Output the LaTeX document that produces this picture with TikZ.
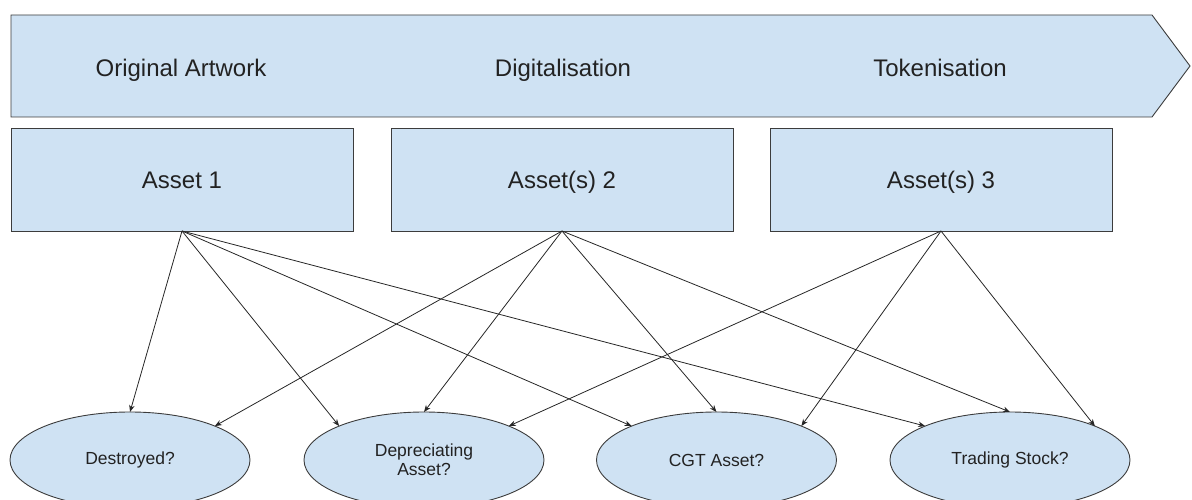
\documentclass[tikz,border=0pt]{standalone}
\usepackage{fontspec}
\setmainfont{Liberation Sans}
\usetikzlibrary{arrows.meta,shapes.geometric}
\definecolor{fillblue}{HTML}{CFE2F3}
\definecolor{edgegray}{HTML}{3C3C3C}
\definecolor{txt}{HTML}{222222}
\tikzset{
  banner/.style={draw=edgegray,fill=fillblue,line width=0.9pt},
  bannertext/.style={text=txt,font=\fontsize{24}{28}\selectfont,inner sep=0pt,anchor=base},
  assetbox/.style={draw=edgegray,fill=fillblue,line width=0.9pt,minimum width=342pt,minimum height=103pt,inner sep=0pt,outer sep=0pt,text=txt,font=\fontsize{24}{28}\selectfont,text height=22pt,text depth=3pt},
  outcome/.style={ellipse,draw=edgegray,fill=fillblue,line width=0.9pt,minimum width=240pt,minimum height=96pt,inner sep=0pt,outer sep=0pt,text=txt,font=\fontsize{17.5}{21}\selectfont,align=center},
  link/.style={draw=black!85,line width=0.8pt,-{Stealth[length=7pt,width=5.5pt]}}
}
\begin{document}
\begin{tikzpicture}[x=1pt,y=-1pt]
\useasboundingbox (0,0) rectangle (1192,500);
% banner arrow
\draw[banner] (11,15) -- (1152,15) -- (1190,66) -- (1152,117) -- (11,117) -- cycle;
\node[bannertext] (t1) at (181,77) {Original Artwork};
\node[bannertext] (t2) at (563,77) {Digitalisation};
\node[bannertext] (t3) at (940,77) {Tokenisation};
% asset boxes
\node[assetbox] (a1) at (182,179.5) {Asset 1};
\node[assetbox] (a2) at (562,179.5) {Asset(s) 2};
\node[assetbox] (a3) at (941,179.5) {Asset(s) 3};
% outcomes
\node[outcome] (d) at (130,460) {Destroyed?};
\node[outcome] (p) at (424,460) {Depreciating\\[-2pt]Asset?};
\node[outcome] (c) at (716.5,460) {CGT Asset?};
\node[outcome] (s) at (1010,460) {Trading Stock?};
% connectors
\draw[link] (a1.south) -- (d.north);
\draw[link] (a1.south) -- (p.north west);
\draw[link] (a1.south) -- (c.north west);
\draw[link] (a1.south) -- (s.north west);
\draw[link] (a2.south) -- (d.north east);
\draw[link] (a2.south) -- (p.north);
\draw[link] (a2.south) -- (c.north);
\draw[link] (a2.south) -- (s.north);
\draw[link] (a3.south) -- (p.north east);
\draw[link] (a3.south) -- (c.north east);
\draw[link] (a3.south) -- (s.north east);
\end{tikzpicture}
\end{document}
